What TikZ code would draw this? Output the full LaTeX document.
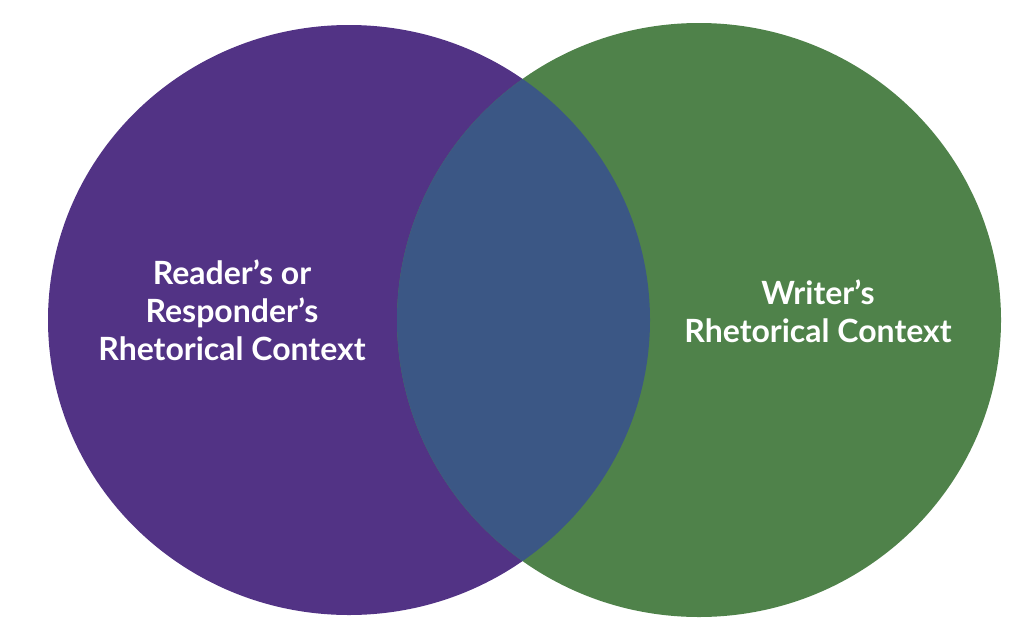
\documentclass[tikz,border=0pt]{standalone}
\usepackage{fontspec}
\setmainfont{Lato}
\definecolor{purp}{HTML}{523385}
\definecolor{grn}{HTML}{4F824A}
\definecolor{ovl}{HTML}{3B5785}
\begin{document}
\begin{tikzpicture}[x=1pt,y=-1pt,
  lbl/.style={text=white,font=\bfseries\fontsize{32}{38}\selectfont,align=center}]
\useasboundingbox (0,0) rectangle (1024,632);
\fill[purp] (349,320) ellipse[x radius=301,y radius=295];
\fill[grn] (699,320) ellipse[x radius=302,y radius=297];
\begin{scope}
\clip (349,320) ellipse[x radius=301,y radius=295];
\fill[ovl] (699,320) ellipse[x radius=302,y radius=297];
\end{scope}
\node[lbl] (l) at (232,310) {Reader’s or\\Responder’s\\Rhetorical Context};
\node[lbl] (r) at (818,311) {Writer’s\\Rhetorical Context};
\end{tikzpicture}
\end{document}
